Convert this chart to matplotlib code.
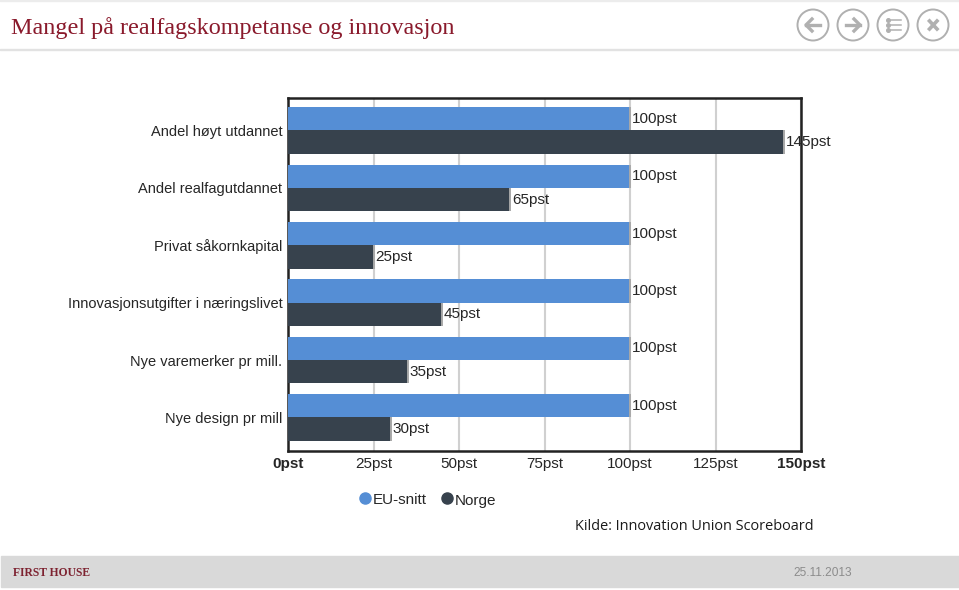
import matplotlib
matplotlib.use("Agg")
import matplotlib.pyplot as plt
from matplotlib.patches import Circle, Rectangle

W, H = 959, 590

categories = ["Andel høyt utdannet", "Andel realfagutdannet", "Privat såkornkapital",
              "Innovasjonsutgifter i næringslivet", "Nye varemerker pr mill.", "Nye design pr mill"]
eu_snitt = [100, 100, 100, 100, 100, 100]
norge = [145, 65, 25, 45, 35, 30]
x_ticks = [0, 25, 50, 75, 100, 125, 150]
x_labels = ["0pst", "25pst", "50pst", "75pst", "100pst", "125pst", "150pst"]

BLUE = "#558ed5"
DARK = "#37424d"
TEXT = "#262626"
RED = "#8a1a2c"
BTN = "#b0b0b0"
SANS = "Liberation Sans"

fig = plt.figure(figsize=(W / 100, H / 100), dpi=100, facecolor="white")

# slide chrome, drawn in pixel coordinates
bg = fig.add_axes([0, 0, 1, 1])
bg.set_xlim(0, W)
bg.set_ylim(H, 0)
bg.axis("off")
bg.add_patch(Rectangle((0, 0), W, 1, color="#ececec"))
bg.add_patch(Rectangle((0, 48.5), W, 1.5, color="#e2e2e2"))
bg.add_patch(Rectangle((1, 556), W - 1, 31, color="#d9d9d9"))
bg.text(11, 28.5, "Mangel på realfagskompetanse og innovasjon", family="Liberation Serif",
        fontsize=17.35, color=RED, va="center", ha="left")
bg.text(575, 526, "Kilde: Innovation Union Scoreboard", family="Open Sans",
        fontsize=10.45, color="#1a1a1a", va="center", ha="left")
bg.text(13, 573, "FIRST HOUSE", family="Liberation Serif", weight="bold",
        fontsize=8.4, color="#7d2230", va="center", ha="left")
bg.text(793, 572.5, "25.11.2013", family=SANS, fontsize=8.6, color="#8c8c8c", va="center", ha="left")

for cx in [813, 853, 893, 933]:
    bg.add_patch(Circle((cx, 25), 15.5, fill=False, ec=BTN, lw=1.4))
bg.plot([806, 820], [25, 25], color=BTN, lw=2.4)
bg.plot([812, 806, 812], [19, 25, 31], color=BTN, lw=2.4)
bg.plot([846, 860], [25, 25], color=BTN, lw=2.4)
bg.plot([854, 860, 854], [19, 25, 31], color=BTN, lw=2.4)
for yy in [19.5, 24.5, 29.5]:
    bg.plot([888], [yy], "o", color=BTN, ms=2.6)
    bg.plot([891, 901], [yy, yy], color=BTN, lw=1.1)
bg.plot([929.5, 937], [21, 29], color=BTN, lw=2.6)
bg.plot([929.5, 937], [29, 21], color=BTN, lw=2.6)

# chart, placed to the pixel box of the plot frame
L, R, T, B = 288, 801, 98, 451
ax = fig.add_axes([L / W, 1 - B / H, (R - L) / W, (B - T) / H])
ys = list(range(len(categories)))
h = 0.405
ax.barh([y - h / 2 for y in ys], eu_snitt, height=h, color=BLUE, zorder=3)
ax.barh([y + h / 2 for y in ys], norge, height=h, color=DARK, zorder=3)
ax.vlines(eu_snitt, [y - h for y in ys], ys, color="#a8a8a8", lw=1.4, zorder=3.5)
ax.vlines(norge, ys, [y + h for y in ys], color="#a8a8a8", lw=1.4, zorder=3.5)
for y, v in zip(ys, eu_snitt):
    ax.text(v + 0.6, y - h / 2, f"{v}pst", family=SANS, fontsize=11, color=TEXT, va="center", ha="left")
for y, v in zip(ys, norge):
    ax.text(v + 0.6, y + h / 2, f"{v}pst", family=SANS, fontsize=11, color=TEXT, va="center", ha="left",
            clip_on=False)

ax.set_xlim(0, 150)
ax.set_ylim(5.584, -0.566)
ax.set_xticks(x_ticks)
ax.set_xticklabels(x_labels, family=SANS, fontsize=11, color=TEXT)
ax.get_xticklabels()[0].set_fontweight("bold")
ax.get_xticklabels()[-1].set_fontweight("bold")
ax.set_yticks(ys)
ax.set_yticklabels(categories, family=SANS, fontsize=10.5, color=TEXT)
ax.tick_params(length=0)
ax.tick_params(axis="x", pad=4)
ax.tick_params(axis="y", pad=4)
ax.grid(axis="x", color="#d0d0d0", lw=1.5, zorder=0)
ax.set_axisbelow(True)
for s in ax.spines.values():
    s.set_color("#222222")
    s.set_linewidth(1.8)

# legend
bg.set_zorder(ax.get_zorder() - 1)
bg.plot([365], [497.5], "o", color=BLUE, ms=8)
bg.text(373, 500.5, "EU-snitt", family=SANS, fontsize=11, color=TEXT, va="center", ha="left")
bg.plot([447], [497.5], "o", color=DARK, ms=8)
bg.text(455, 500.5, "Norge", family=SANS, fontsize=11, color=TEXT, va="center", ha="left")

fig.savefig("out.png", dpi=100)
